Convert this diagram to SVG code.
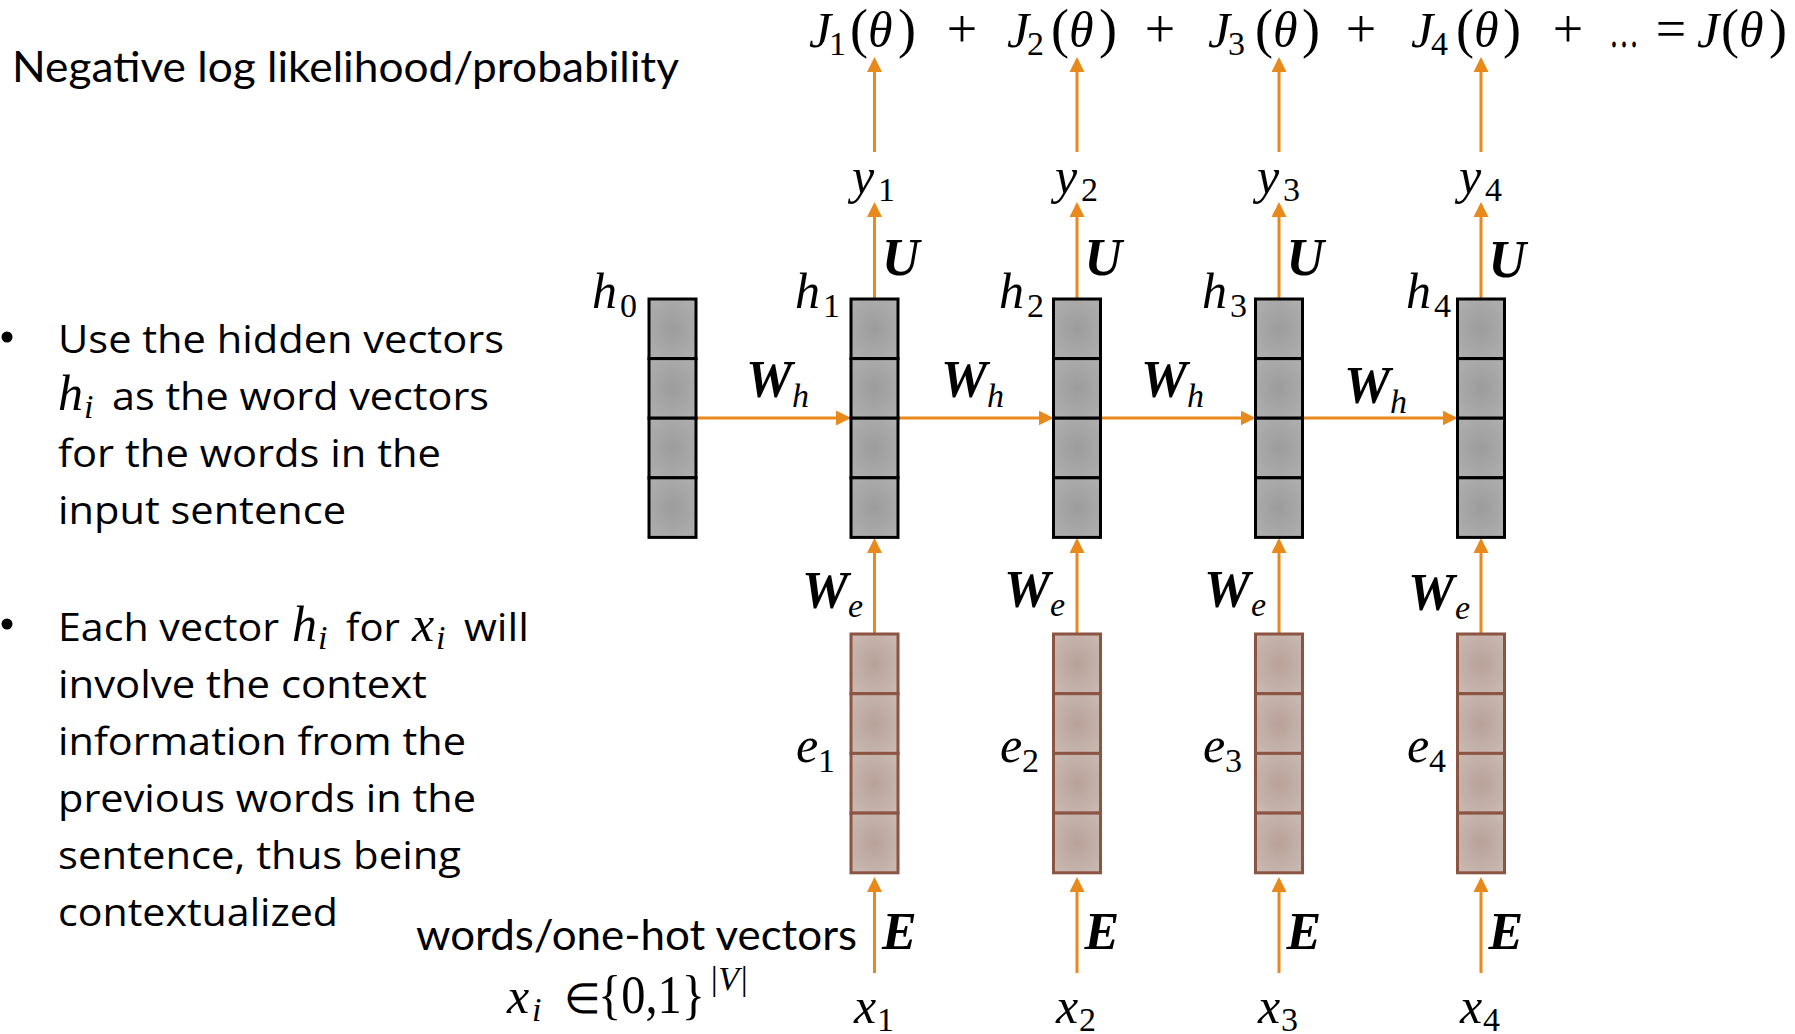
<svg xmlns="http://www.w3.org/2000/svg" width="1795" height="1034" viewBox="0 0 1795 1034">
<defs>
<radialGradient id="gGray" cx="0.5" cy="0.5" r="0.6">
<stop offset="0" stop-color="#9c9c9c"/><stop offset="1" stop-color="#adadad"/>
</radialGradient>
<radialGradient id="gBrown" cx="0.5" cy="0.5" r="0.6">
<stop offset="0" stop-color="#b8a199"/><stop offset="1" stop-color="#c8b8b0"/>
</radialGradient>
<marker id="ah" viewBox="0 0 15 15" refX="12" refY="7.5" markerWidth="15" markerHeight="15" markerUnits="userSpaceOnUse" orient="auto">
<path d="M0,0 L15,7.5 L0,15 z" fill="#E8891C"/>
</marker>
</defs>
<style>
.conn{stroke:#E8891C;stroke-width:3;fill:none;marker-end:url(#ah)}
.hc{fill:url(#gGray);stroke:#000;stroke-width:3}
.ec{fill:url(#gBrown);stroke:#8B5443;stroke-width:3}
.m{font-family:"Liberation Serif",serif;font-style:italic;font-size:50px;fill:#000}
.mu{font-family:"Liberation Serif",serif;font-style:normal;font-size:50px;fill:#000}
.p{font-family:"Liberation Serif",serif;font-style:normal;font-size:54px;fill:#000}
.el{font-family:"Liberation Serif",serif;font-style:normal;font-size:42px;fill:#000}
.sub{font-family:"Liberation Serif",serif;font-style:normal;font-size:34px;fill:#000}
.subi{font-family:"Liberation Serif",serif;font-style:italic;font-size:34px;fill:#000}
.b{font-family:"Liberation Serif",serif;font-style:italic;font-weight:bold;font-size:52px;fill:#000}
.t{font-family:"Open Sans",sans-serif;font-size:38px;fill:#000}
.c{font-family:Lato,sans-serif;font-size:42px;fill:#000}
</style>

<!-- title and text -->
<text class="c" x="12" y="82" textLength="667" lengthAdjust="spacingAndGlyphs">Negative log likelihood/probability</text>

<g id="formula">
<text class="m" x="809" y="47">J</text><text class="sub" x="829" y="55">1</text><text class="p" x="850" y="47">(</text><text class="m" x="868" y="47">θ</text><text class="p" x="898" y="47">)</text>
<text class="p" x="962" y="47" text-anchor="middle">+</text>
<text class="m" x="1007" y="47">J</text><text class="sub" x="1027" y="55">2</text><text class="p" x="1051" y="47">(</text><text class="m" x="1069" y="47">θ</text><text class="p" x="1099" y="47">)</text>
<text class="p" x="1160" y="47" text-anchor="middle">+</text>
<text class="m" x="1208" y="47">J</text><text class="sub" x="1228" y="55">3</text><text class="p" x="1255" y="47">(</text><text class="m" x="1273" y="47">θ</text><text class="p" x="1302" y="47">)</text>
<text class="p" x="1361" y="47" text-anchor="middle">+</text>
<text class="m" x="1411" y="47">J</text><text class="sub" x="1431" y="55">4</text><text class="p" x="1456" y="47">(</text><text class="m" x="1474" y="47">θ</text><text class="p" x="1503" y="47">)</text>
<text class="p" x="1568" y="47" text-anchor="middle">+</text>
<text class="mu" x="1609" y="47" textLength="30" lengthAdjust="spacingAndGlyphs">…</text>
<text class="p" x="1671" y="47" text-anchor="middle">=</text>
<text class="m" x="1697" y="47">J</text><text class="p" x="1721" y="47">(</text><text class="m" x="1739" y="47">θ</text><text class="p" x="1769" y="47">)</text>
</g>

<g id="bullets">
<circle cx="7" cy="337" r="5.5" fill="#000"/>
<text class="t" x="58" y="353" textLength="446" lengthAdjust="spacingAndGlyphs">Use the hidden vectors</text>
<text class="m" x="58" y="410">h</text><text class="subi" x="84" y="418">i</text>
<text class="t" x="112" y="410" textLength="377" lengthAdjust="spacingAndGlyphs">as the word vectors</text>
<text class="t" x="58" y="467" textLength="383" lengthAdjust="spacingAndGlyphs">for the words in the</text>
<text class="t" x="58" y="524" textLength="288" lengthAdjust="spacingAndGlyphs">input sentence</text>
<circle cx="7" cy="624" r="5.5" fill="#000"/>
<text class="t" x="58" y="641" textLength="221" lengthAdjust="spacingAndGlyphs">Each vector</text>
<text class="m" x="292" y="641">h</text><text class="subi" x="318" y="649">i</text>
<text class="t" x="346" y="641" textLength="54" lengthAdjust="spacingAndGlyphs">for</text>
<text class="m" x="412" y="641">x</text><text class="subi" x="436" y="649">i</text>
<text class="t" x="464" y="641" textLength="65" lengthAdjust="spacingAndGlyphs">will</text>
<text class="t" x="58" y="698" textLength="369" lengthAdjust="spacingAndGlyphs">involve the context</text>
<text class="t" x="58" y="755" textLength="408" lengthAdjust="spacingAndGlyphs">information from the</text>
<text class="t" x="58" y="812" textLength="418" lengthAdjust="spacingAndGlyphs">previous words in the</text>
<text class="t" x="58" y="869" textLength="403" lengthAdjust="spacingAndGlyphs">sentence, thus being</text>
<text class="t" x="58" y="926" textLength="280" lengthAdjust="spacingAndGlyphs">contextualized</text>
</g>

<g id="input-caption">
<text class="c" x="416" y="950" textLength="441" lengthAdjust="spacingAndGlyphs">words/one-hot vectors</text>
<text class="m" x="507" y="1013">x</text><text class="subi" x="532" y="1021">i</text>
<text class="el" x="564" y="1013">∈</text>
<text class="p" x="598" y="1013" textLength="107" lengthAdjust="spacingAndGlyphs">{0,1}</text>
<text class="subi" x="709" y="990">|V|</text>
</g>

<!-- connectors -->
<g id="connectors">
<line class="conn" x1="874.5" y1="152" x2="874.5" y2="60"/>
<line class="conn" x1="1077" y1="152" x2="1077" y2="60"/>
<line class="conn" x1="1279" y1="152" x2="1279" y2="60"/>
<line class="conn" x1="1481" y1="152" x2="1481" y2="60"/>

<line class="conn" x1="874.5" y1="299" x2="874.5" y2="205"/>
<line class="conn" x1="1077" y1="299" x2="1077" y2="205"/>
<line class="conn" x1="1279" y1="299" x2="1279" y2="205"/>
<line class="conn" x1="1481" y1="299" x2="1481" y2="205"/>

<line class="conn" x1="696" y1="418" x2="848" y2="418"/>
<line class="conn" x1="898" y1="418" x2="1050.5" y2="418"/>
<line class="conn" x1="1100.5" y1="418" x2="1252.5" y2="418"/>
<line class="conn" x1="1302.5" y1="418" x2="1454.5" y2="418"/>

<line class="conn" x1="874.5" y1="634" x2="874.5" y2="541"/>
<line class="conn" x1="1077" y1="634" x2="1077" y2="541"/>
<line class="conn" x1="1279" y1="634" x2="1279" y2="541"/>
<line class="conn" x1="1481" y1="634" x2="1481" y2="541"/>

<line class="conn" x1="874.5" y1="973" x2="874.5" y2="880"/>
<line class="conn" x1="1077" y1="973" x2="1077" y2="880"/>
<line class="conn" x1="1279" y1="973" x2="1279" y2="880"/>
<line class="conn" x1="1481" y1="973" x2="1481" y2="880"/>
</g>

<!-- hidden vectors -->
<g id="h0">
<rect class="hc" x="649" y="299" width="47" height="59.6"/><rect class="hc" x="649" y="358.6" width="47" height="59.6"/><rect class="hc" x="649" y="418.2" width="47" height="59.6"/><rect class="hc" x="649" y="477.8" width="47" height="59.6"/>
<text class="m" x="592" y="308">h</text><text class="sub" x="620" y="317">0</text>
</g>
<g id="h1">
<rect class="hc" x="851" y="299" width="47" height="59.6"/><rect class="hc" x="851" y="358.6" width="47" height="59.6"/><rect class="hc" x="851" y="418.2" width="47" height="59.6"/><rect class="hc" x="851" y="477.8" width="47" height="59.6"/>
<text class="m" x="795" y="308">h</text><text class="sub" x="823" y="317">1</text>
</g>
<g id="h2">
<rect class="hc" x="1053.5" y="299" width="47" height="59.6"/><rect class="hc" x="1053.5" y="358.6" width="47" height="59.6"/><rect class="hc" x="1053.5" y="418.2" width="47" height="59.6"/><rect class="hc" x="1053.5" y="477.8" width="47" height="59.6"/>
<text class="m" x="999" y="308">h</text><text class="sub" x="1027" y="317">2</text>
</g>
<g id="h3">
<rect class="hc" x="1255.5" y="299" width="47" height="59.6"/><rect class="hc" x="1255.5" y="358.6" width="47" height="59.6"/><rect class="hc" x="1255.5" y="418.2" width="47" height="59.6"/><rect class="hc" x="1255.5" y="477.8" width="47" height="59.6"/>
<text class="m" x="1202" y="308">h</text><text class="sub" x="1230" y="317">3</text>
</g>
<g id="h4">
<rect class="hc" x="1457.5" y="299" width="47" height="59.6"/><rect class="hc" x="1457.5" y="358.6" width="47" height="59.6"/><rect class="hc" x="1457.5" y="418.2" width="47" height="59.6"/><rect class="hc" x="1457.5" y="477.8" width="47" height="59.6"/>
<text class="m" x="1406" y="308">h</text><text class="sub" x="1434" y="317">4</text>
</g>

<!-- embeddings -->
<g id="e1">
<rect class="ec" x="851" y="634" width="47" height="59.7"/><rect class="ec" x="851" y="693.7" width="47" height="59.7"/><rect class="ec" x="851" y="753.4" width="47" height="59.7"/><rect class="ec" x="851" y="813.1" width="47" height="59.7"/>
<text class="m" x="796" y="762">e</text><text class="sub" x="818" y="772">1</text>
</g>
<g id="e2">
<rect class="ec" x="1053.5" y="634" width="47" height="59.7"/><rect class="ec" x="1053.5" y="693.7" width="47" height="59.7"/><rect class="ec" x="1053.5" y="753.4" width="47" height="59.7"/><rect class="ec" x="1053.5" y="813.1" width="47" height="59.7"/>
<text class="m" x="1000" y="762">e</text><text class="sub" x="1022" y="772">2</text>
</g>
<g id="e3">
<rect class="ec" x="1255.5" y="634" width="47" height="59.7"/><rect class="ec" x="1255.5" y="693.7" width="47" height="59.7"/><rect class="ec" x="1255.5" y="753.4" width="47" height="59.7"/><rect class="ec" x="1255.5" y="813.1" width="47" height="59.7"/>
<text class="m" x="1203" y="762">e</text><text class="sub" x="1225" y="772">3</text>
</g>
<g id="e4">
<rect class="ec" x="1457.5" y="634" width="47" height="59.7"/><rect class="ec" x="1457.5" y="693.7" width="47" height="59.7"/><rect class="ec" x="1457.5" y="753.4" width="47" height="59.7"/><rect class="ec" x="1457.5" y="813.1" width="47" height="59.7"/>
<text class="m" x="1407" y="762">e</text><text class="sub" x="1429" y="772">4</text>
</g>

<!-- outputs -->
<g id="y1"><text class="m" x="852" y="193">y</text><text class="sub" x="878" y="201">1</text></g>
<g id="y2"><text class="m" x="1055" y="193">y</text><text class="sub" x="1081" y="201">2</text></g>
<g id="y3"><text class="m" x="1257" y="193">y</text><text class="sub" x="1283" y="201">3</text></g>
<g id="y4"><text class="m" x="1459" y="193">y</text><text class="sub" x="1485" y="201">4</text></g>

<!-- inputs -->
<g id="x1"><text class="m" x="854" y="1023">x</text><text class="sub" x="877" y="1031">1</text></g>
<g id="x2"><text class="m" x="1056" y="1023">x</text><text class="sub" x="1079" y="1031">2</text></g>
<g id="x3"><text class="m" x="1258" y="1023">x</text><text class="sub" x="1281" y="1031">3</text></g>
<g id="x4"><text class="m" x="1460" y="1023">x</text><text class="sub" x="1483" y="1031">4</text></g>

<!-- weight labels -->
<g id="weight-labels">
<text class="b" x="882" y="275">U</text>
<text class="b" x="1084.5" y="275">U</text>
<text class="b" x="1286.5" y="275">U</text>
<text class="b" x="1488.5" y="277">U</text>

<text class="b" x="746" y="397">W</text><text class="subi" x="792" y="407">h</text>
<text class="b" x="941" y="397">W</text><text class="subi" x="987" y="407">h</text>
<text class="b" x="1141" y="397">W</text><text class="subi" x="1187" y="407">h</text>
<text class="b" x="1344" y="403">W</text><text class="subi" x="1390" y="413">h</text>

<text class="b" x="802" y="608">W</text><text class="subi" x="848" y="617">e</text>
<text class="b" x="1004" y="607">W</text><text class="subi" x="1050" y="616">e</text>
<text class="b" x="1204" y="607">W</text><text class="subi" x="1251" y="616">e</text>
<text class="b" x="1408" y="610">W</text><text class="subi" x="1455" y="619">e</text>

<text class="b" x="882" y="949">E</text>
<text class="b" x="1084.5" y="949">E</text>
<text class="b" x="1286.5" y="949">E</text>
<text class="b" x="1488.5" y="949">E</text>
</g>
</svg>
